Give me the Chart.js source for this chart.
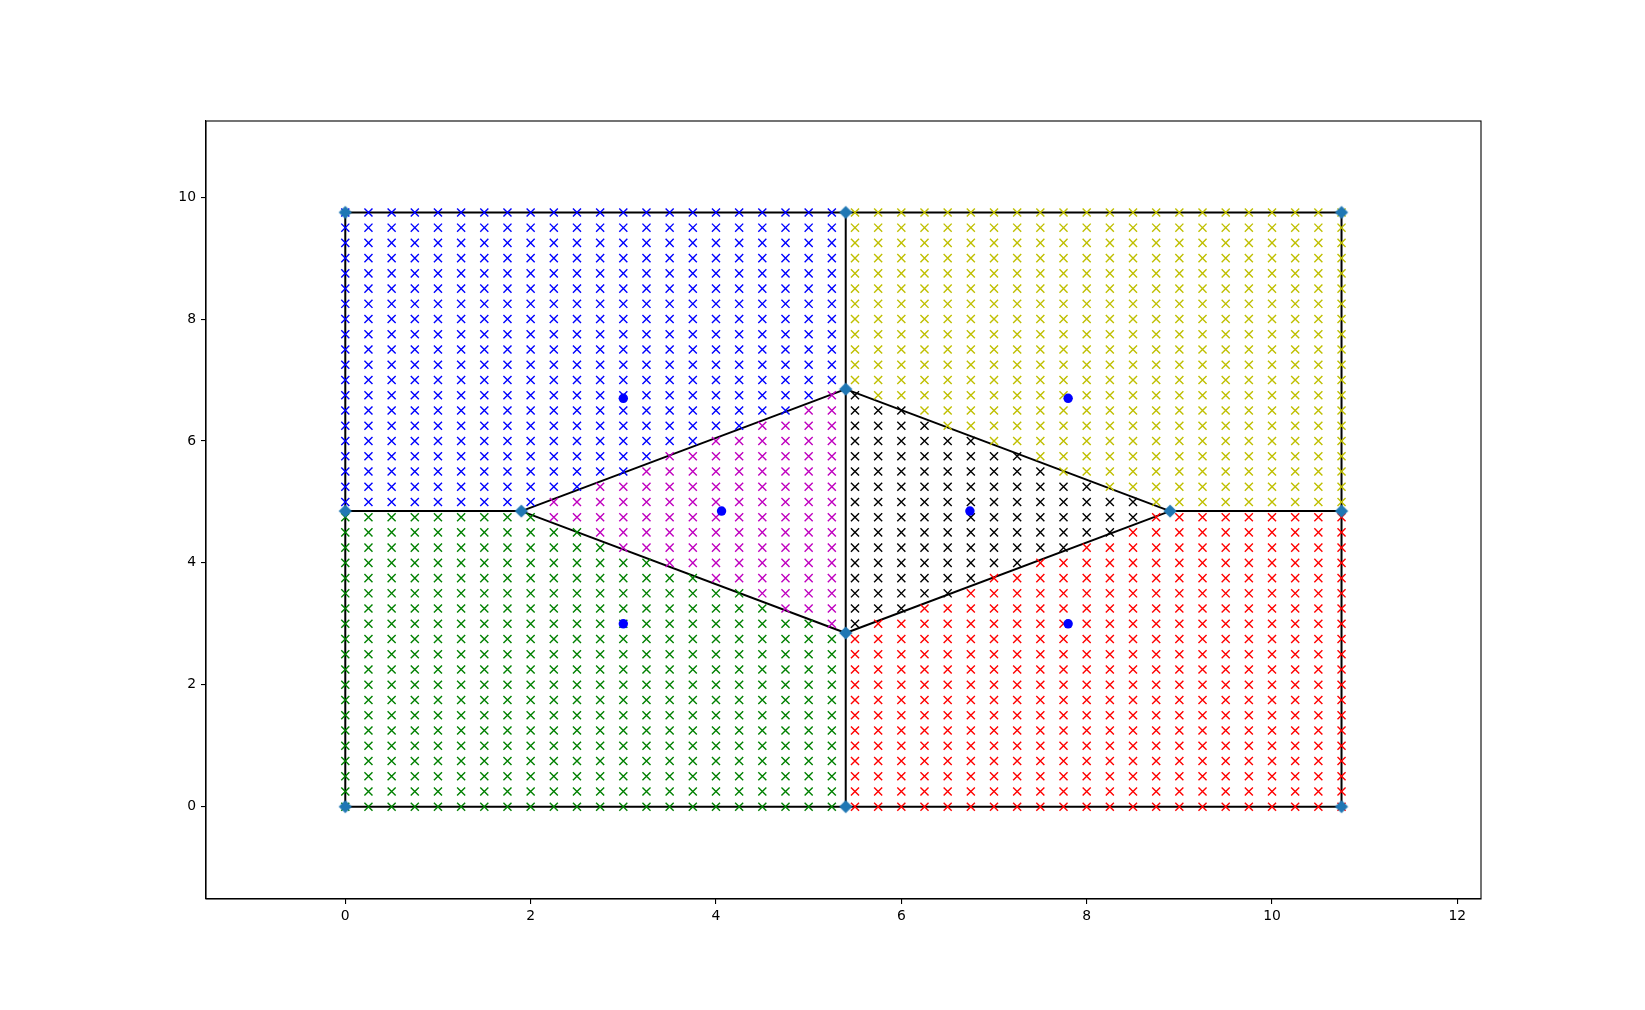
<!DOCTYPE html>
<html><head><meta charset="utf-8">
<script src="https://cdn.jsdelivr.net/npm/chart.js@4/dist/chart.umd.min.js"></script>
<style>html,body{margin:0;padding:0;background:#fff;} canvas{display:block;}</style>
</head><body>
<canvas id="c" width="1645" height="1010" style="width:1645px;height:1010px"></canvas>
<script>
// Grid sample positions (step 0.25)
const gridX = [0,0.25,0.5,0.75,1,1.25,1.5,1.75,2,2.25,2.5,2.75,3,3.25,3.5,3.75,4,4.25,4.5,4.75,5,5.25,5.5,5.75,6,6.25,6.5,6.75,7,7.25,7.5,7.75,8,8.25,8.5,8.75,9,9.25,9.5,9.75,10,10.25,10.5,10.75];
const gridY = [0,0.25,0.5,0.75,1,1.25,1.5,1.75,2,2.25,2.5,2.75,3,3.25,3.5,3.75,4,4.25,4.5,4.75,5,5.25,5.5,5.75,6,6.25,6.5,6.75,7,7.25,7.5,7.75,8,8.25,8.5,8.75,9,9.25,9.5,9.75];
// Seed points (blue dots) and the colour of the region each one owns
const seedX = [3.0, 7.8, 4.06, 6.74, 3.0, 7.8];
const seedY = [6.7, 6.7, 4.85, 4.85, 3.0, 3.0];
const regionColors = ['#0000ff', '#bfbf00', '#bf00bf', '#000000', '#008000', '#ff0000'];
// Cell vertices (diamonds) and edges between them
const vertexX = [0, 5.4, 10.75, 0, 1.9, 5.4, 5.4, 8.9, 10.75, 0, 5.4, 10.75];
const vertexY = [0, 0, 0, 4.85, 4.85, 6.85, 2.85, 4.85, 4.85, 9.75, 9.75, 9.75];
const edges = [[0,1],[1,2],[2,8],[8,11],[11,10],[10,9],[9,3],[3,0],[3,4],[7,8],[4,5],[5,7],[7,6],[6,4],[10,5],[5,6],[6,1]];
// Axis ticks
const xTicks = [0,2,4,6,8,10,12];
const yTicks = [0,2,4,6,8,10];

// Assign each grid sample to the region of its nearest seed
const regionPts = seedX.map(() => []);
for (const gy of gridY) {
  for (const gx of gridX) {
    let best = 0, bd = Infinity;
    for (let k = 0; k < seedX.length; k++) {
      const d = (gx - seedX[k]) ** 2 + (gy - seedY[k]) ** 2;
      if (d < bd) { bd = d; best = k; }
    }
    regionPts[best].push({x: gx, y: gy});
  }
}

// Diamond marker sprite
const dm = document.createElement('canvas');
dm.width = 16; dm.height = 16;
{
  const g = dm.getContext('2d');
  const c = 8, r = 6.6;
  g.fillStyle = '#1f77b4';
  g.beginPath();
  g.moveTo(c - r, c); g.lineTo(c, c - r); g.lineTo(c + r, c); g.lineTo(c, c + r);
  g.closePath(); g.fill();
}

const datasets = [];
datasets.push({
  data: seedX.map((x, i) => ({x, y: seedY[i]})),
  pointStyle: 'circle', pointRadius: 4.7, pointBackgroundColor: '#0000ff', pointBorderWidth: 0, order: 0
});
datasets.push({
  data: vertexX.map((x, i) => ({x, y: vertexY[i]})),
  pointStyle: dm, pointRadius: 8, order: 1
});
regionPts.forEach((pts, k) => {
  datasets.push({
    data: pts, pointStyle: 'crossRot', pointRadius: 5.7, pointBorderWidth: 1.4,
    pointBorderColor: regionColors[k], pointBackgroundColor: regionColors[k], order: 2
  });
});
edges.forEach(([a, b]) => {
  datasets.push({
    data: [{x: vertexX[a], y: vertexY[a]}, {x: vertexX[b], y: vertexY[b]}],
    showLine: true, borderColor: '#000', borderWidth: 2, pointRadius: 0, order: 3
  });
});

const frame = {
  id: 'frame',
  afterDatasetsDraw(chart) {
    const a = chart.chartArea, ctx = chart.ctx;
    ctx.save();
    ctx.strokeStyle = '#000'; ctx.lineWidth = 1.1;
    ctx.strokeRect(a.left, a.top, a.right - a.left, a.bottom - a.top);
    ctx.restore();
  }
};

const tickFont = {family: 'DejaVu Sans', size: 13.9};
new Chart(document.getElementById('c'), {
  type: 'scatter',
  data: {datasets},
  options: {
    responsive: false, devicePixelRatio: 1, animation: false,
    layout: {padding: {left: 0, right: 164, top: 121, bottom: 0}},
    plugins: {legend: {display: false}, tooltip: {enabled: false}},
    scales: {
      x: {
        type: 'linear', min: -1.503, max: 12.255,
        afterBuildTicks: s => { s.ticks = xTicks.map(v => ({value: v})); },
        afterFit: s => { s.height = 111; },
        ticks: {color: '#000', font: tickFont, padding: 4, maxRotation: 0, autoSkip: false, callback: v => String(v)},
        grid: {drawOnChartArea: false, drawTicks: true, tickLength: 5, color: '#000', lineWidth: 1.1},
        border: {display: true, color: '#000', width: 1.1}
      },
      y: {
        type: 'linear', min: -1.515, max: 11.25,
        afterBuildTicks: s => { s.ticks = yTicks.map(v => ({value: v})); },
        afterFit: s => { s.width = 206; },
        ticks: {color: '#000', font: tickFont, padding: 5, autoSkip: false, callback: v => String(v)},
        grid: {drawOnChartArea: false, drawTicks: true, tickLength: 5, color: '#000', lineWidth: 1.1},
        border: {display: true, color: '#000', width: 1.1}
      }
    }
  },
  plugins: [frame]
});
</script>
</body></html>
